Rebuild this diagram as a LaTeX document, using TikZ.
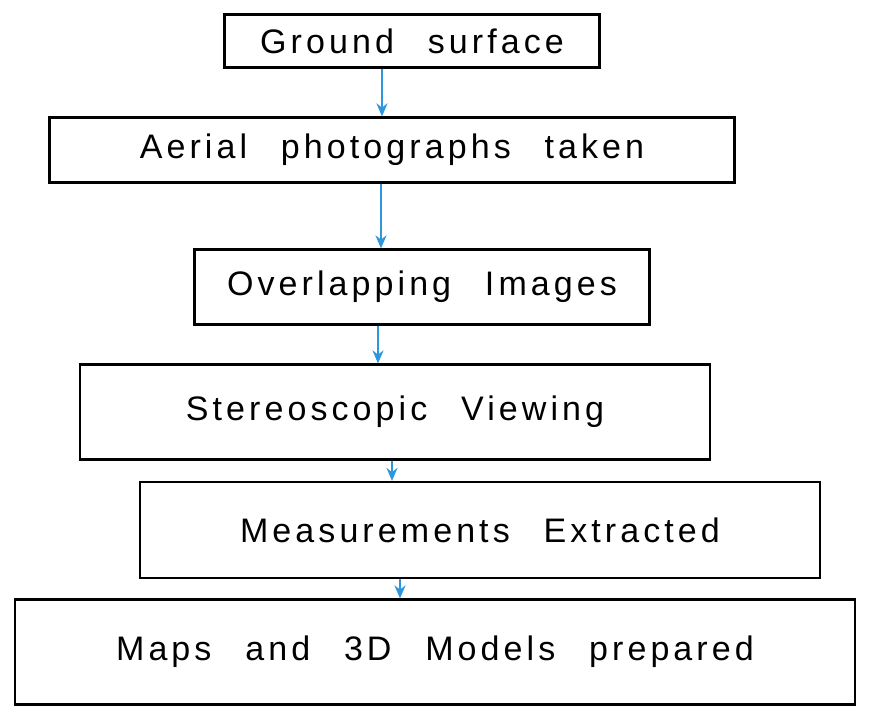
\documentclass[tikz,border=0pt]{standalone}
\usepackage{fontspec}
\setmainfont{Liberation Sans}[LetterSpace=12,WordSpace=2.5]
\usetikzlibrary{arrows.meta, positioning}
\definecolor{skyarrow}{RGB}{45,150,220}
\tikzstyle{blk}=[draw,line width=2.2pt,inner sep=0pt,font=\fontsize{34}{38}\selectfont]
\tikzstyle{flow}=[draw=skyarrow,line width=2pt,-{Stealth[length=13pt,width=11pt]}]

\begin{document}
\begin{tikzpicture}[x=1pt,y=-1pt]
    \useasboundingbox (0,0) rectangle (869,721);
    % the six steps, top to bottom
    \node[blk,minimum width=375pt,minimum height=53pt] (ground) at (412,41) {Ground surface};
    \node[blk,minimum width=685pt,minimum height=65pt] (aerial) at (392,150) {Aerial photographs taken};
    \node[blk,minimum width=455pt,minimum height=75pt] (overlap) at (422,287) {Overlapping Images};
    \node[blk,minimum width=630pt,minimum height=95pt] (stereo) at (395,412) {Stereoscopic Viewing};
    \node[blk,minimum width=680pt,minimum height=96pt] (measure) at (480,530) {Measurements Extracted};
    \node[blk,minimum width=840pt,minimum height=105pt] (maps) at (435,652) {Maps and 3D Models prepared};
    % arrows down the middle
    \foreach \a/\b/\xa in {ground/aerial/382, aerial/overlap/381, overlap/stereo/378, stereo/measure/392, measure/maps/400}
        \draw[flow] (\a.south -| \xa,0) -- (\b.north -| \xa,0);
\end{tikzpicture}
\end{document}
